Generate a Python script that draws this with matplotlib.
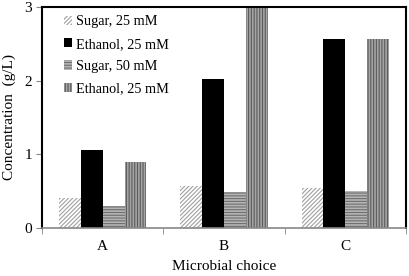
import numpy as np
import matplotlib.pyplot as plt

plt.rcParams['font.family'] = ['Liberation Serif', 'DejaVu Serif']
plt.rcParams['hatch.linewidth'] = 0.8

categories = ['A', 'B', 'C']
series_labels = ['Sugar, 25 mM', 'Ethanol, 25 mM', 'Sugar, 50 mM', 'Ethanol, 25 mM']
sugar_25 = [0.41, 0.56, 0.54]
ethanol_25 = [1.06, 2.02, 2.56]
sugar_50 = [0.29, 0.49, 0.50]
ethanol_25b = [0.89, 2.98, 2.56]

# face, hatch color, hatch
styles = [
    ('white', '#a0a0a0', '////////'),
    ('black', 'black', None),
    ('#b5b5b5', '#6e6e6e', '------'),
    ('#a5a5a5', '#5a5a5a', '||||||'),
]

fig, ax = plt.subplots(figsize=(4.1, 2.76), dpi=100)
fig.subplots_adjust(left=0.103, right=0.99, top=0.975, bottom=0.175)

x = np.arange(len(categories))
w = 0.18
for i, (vals, (fc, ec, h)) in enumerate(zip([sugar_25, ethanol_25, sugar_50, ethanol_25b], styles)):
    ax.bar(x + (i - 1.5) * w, vals, w, color=fc, edgecolor=ec, hatch=h,
           linewidth=0, label=series_labels[i])

ax.set_xlim(-0.5, 2.5)
ax.set_ylim(0, 3)
ax.set_yticks([0, 1, 2, 3])
ax.set_xticks(x)
ax.set_xticklabels(categories, fontsize=11)
ax.set_xticks([-0.5, 0.5, 1.5, 2.5], minor=True)
ax.tick_params(axis='x', which='major', length=0, pad=9)
ax.tick_params(axis='x', which='minor', length=4, color='#888888')
ax.tick_params(axis='y', length=4, color='#888888', labelsize=11)

for s in ['top', 'right', 'left']:
    ax.spines[s].set_color('black')
    ax.spines[s].set_linewidth(1.5)
ax.spines['bottom'].set_color('#888888')
ax.spines['bottom'].set_linewidth(1.2)

ax.set_xlabel('Microbial choice', fontsize=11, labelpad=5)
ax.set_ylabel('Concentration  (g/L)', fontsize=11, labelpad=6)

ax.legend(loc='upper left', frameon=False, fontsize=10.3, handlelength=0.6,
          handleheight=0.6, handletextpad=0.25, labelspacing=0.65,
          borderaxespad=0.2, bbox_to_anchor=(0.035, 1.0))

fig.savefig('out.png', dpi=100)
